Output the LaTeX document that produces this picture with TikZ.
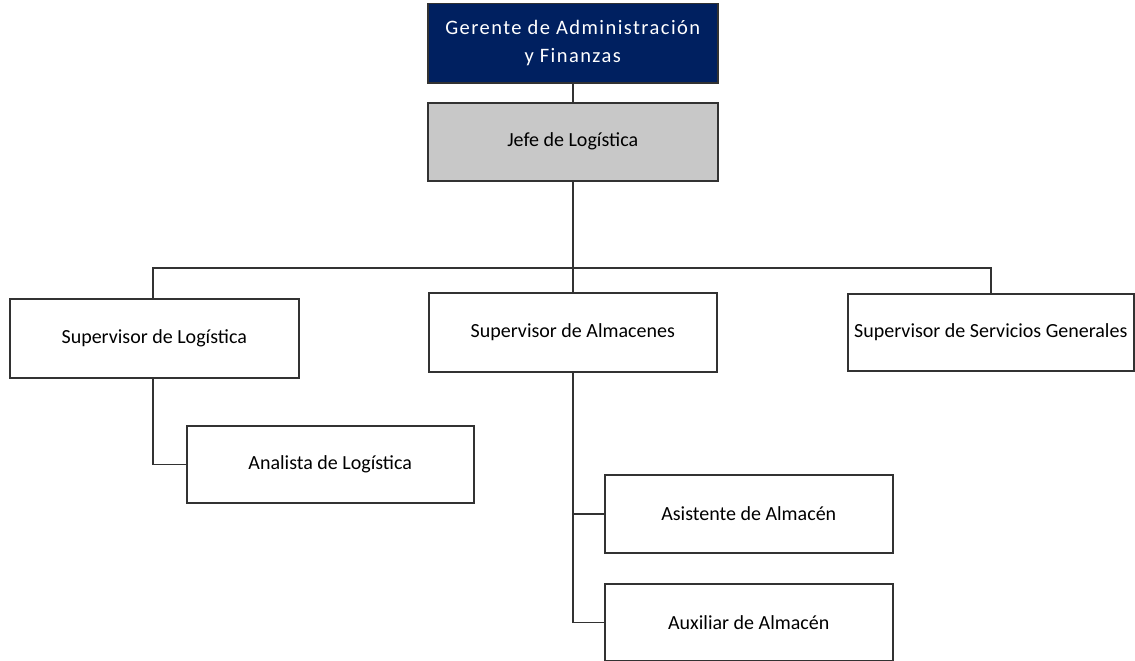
\documentclass[tikz,border=0pt]{standalone}
\usepackage{fontspec}
\setmainfont{Carlito}
\definecolor{navy}{RGB}{0,32,96}
\definecolor{boxgray}{RGB}{200,200,200}
\definecolor{edge}{RGB}{50,50,50}
\begin{document}
\begin{tikzpicture}[x=1pt,y=-1pt,
  orgbox/.style={draw=edge,line width=1.5pt,fill=white,anchor=north west,inner sep=0pt,align=center,font=\fontsize{20}{28}\selectfont},
  conn/.style={draw=edge,line width=1.5pt}]
\useasboundingbox (0,0) rectangle (1135,661);
\node[orgbox,fill=navy,text=white,minimum width=290pt,minimum height=79pt,font=\fontsize{20.5}{28}\selectfont\addfontfeature{LetterSpace=7}] (ger) at (427,3) {Gerente de Administración\\y Finanzas};
\node[orgbox,fill=boxgray,minimum width=290pt,minimum height=78pt] (jefe) at (427,102) {Jefe de Logística};
\node[orgbox,minimum width=289pt,minimum height=79pt] (slog) at (9,298) {Supervisor de Logística};
\node[orgbox,minimum width=288pt,minimum height=79pt] (salm) at (428,292) {Supervisor de Almacenes};
\node[orgbox,minimum width=286pt,minimum height=77pt] (ssg) at (847,293) {Supervisor de Servicios Generales};
\node[orgbox,minimum width=287pt,minimum height=77pt] (ana) at (186,425) {Analista de Logística};
\node[orgbox,minimum width=288pt,minimum height=78pt] (asi) at (604,474) {Asistente de Almacén};
\node[orgbox,minimum width=288pt,minimum height=77pt] (aux) at (604,583) {Auxiliar de Almacén};
\coordinate (bl) at (153,268);
\coordinate (br) at (991,268);
\draw[conn] (ger.south) -- (jefe.north);
\draw[conn] (jefe.south) -- (salm.north);
\draw[conn] (slog.north -| bl) -- (bl) -- (br) -- (ssg.north -| br);
\draw[conn] (slog.south -| bl) |- (ana.west);
\draw[conn] (salm.south) -- (salm.south |- aux.west) -- (aux.west);
\draw[conn] (salm.south |- asi.west) -- (asi.west);
\end{tikzpicture}
\end{document}
